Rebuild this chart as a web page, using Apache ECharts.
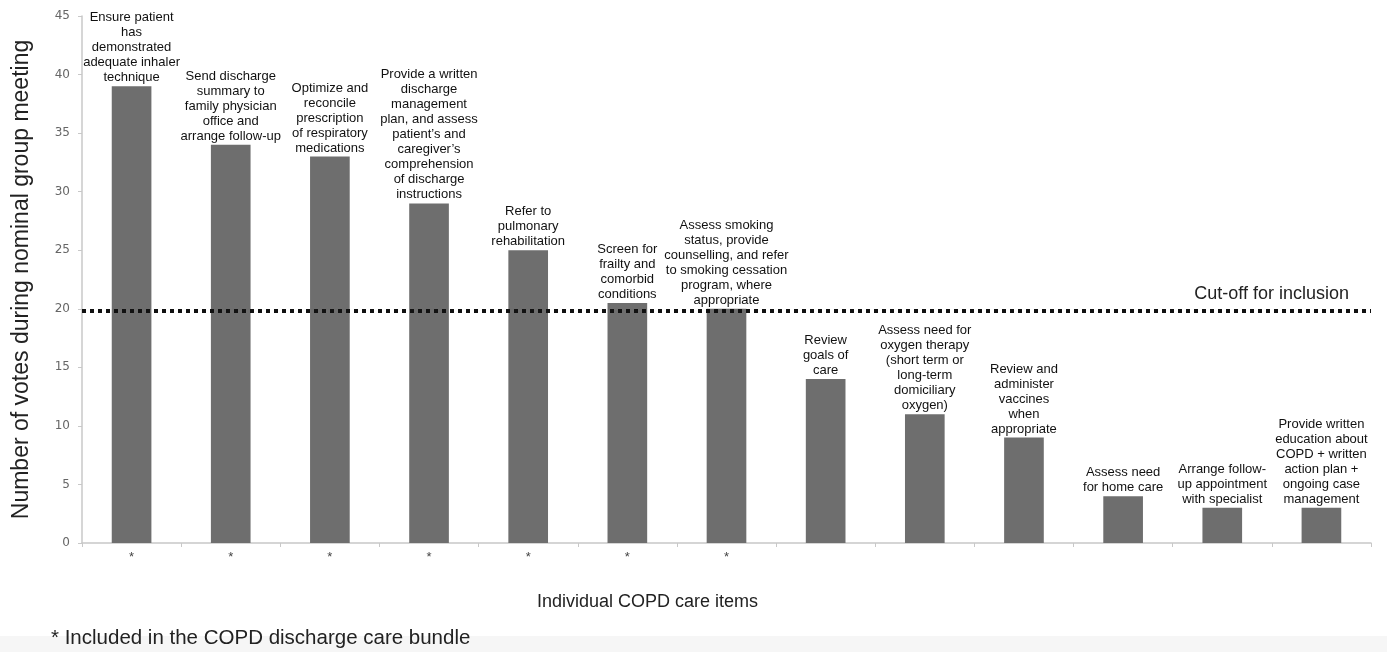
<!DOCTYPE html>
<html>
<head>
<meta charset="utf-8">
<script src="https://cdn.jsdelivr.net/npm/echarts@6/dist/echarts.min.js"></script>
<style>
  html, body { margin: 0; padding: 0; background: #fff; }
  #chart { width: 1387px; height: 652px; }
</style>
</head>
<body>
<div id="chart"></div>
<script>
// ---- Data ----
const categories = [
  "Ensure patient\nhas\ndemonstrated\nadequate inhaler\ntechnique",
  "Send discharge\nsummary to\nfamily physician\noffice and\narrange follow-up",
  "Optimize and\nreconcile\nprescription\nof respiratory\nmedications",
  "Provide a written\ndischarge\nmanagement\nplan, and assess\npatient\u2019s and\ncaregiver\u2019s\ncomprehension\nof discharge\ninstructions",
  "Refer to\npulmonary\nrehabilitation",
  "Screen for\nfrailty and\ncomorbid\nconditions",
  "Assess smoking\nstatus, provide\ncounselling, and refer\nto smoking cessation\nprogram, where\nappropriate",
  "Review\ngoals of\ncare",
  "Assess need for\noxygen therapy\n(short term or\nlong-term\ndomiciliary\noxygen)",
  "Review and\nadminister\nvaccines\nwhen\nappropriate",
  "Assess need\nfor home care",
  "Arrange follow-\nup appointment\nwith specialist",
  "Provide written\neducation about\nCOPD + written\naction plan +\nongoing case\nmanagement"
];
const votes = [39, 34, 33, 29, 25, 20.5, 20, 14, 11, 9, 4, 3, 3];
const inBundle = [true, true, true, true, true, true, true, false, false, false, false, false, false];
const cutoff = 19.8;
const cutoffLabel = "Cut-off for inclusion";
const yTicks = { min: 0, max: 45, interval: 5 };
const yAxisTitle = "Number of votes during nominal group meeting";
const xAxisTitle = "Individual COPD care items";
const footnote = "* Included in the COPD discharge care bundle";

const FONT = "'Liberation Sans', Arial, Helvetica, sans-serif";

const chart = echarts.init(document.getElementById('chart'), null, { renderer: 'canvas' });
chart.setOption({
  animation: false,
  backgroundColor: '#ffffff',
  textStyle: { fontFamily: FONT },
  graphic: [{
    type: 'rect', z: -10,
    shape: { x: 0, y: 636, width: 1387, height: 16 },
    style: { fill: '#f6f6f6' }
  }],
  title: [
    { text: xAxisTitle, left: 532, top: 588,
      textStyle: { fontFamily: FONT, fontSize: 18, fontWeight: 'normal', color: '#222' } },
    { text: footnote, left: 46, top: 623,
      textStyle: { fontFamily: FONT, fontSize: 20.5, fontWeight: 'normal', color: '#222' } }
  ],
  grid: { left: 82, right: 16, top: 16, bottom: 109, containLabel: false },
  xAxis: {
    type: 'category',
    data: categories,
    axisLine: { lineStyle: { color: '#c8c8c8', width: 1.5 } },
    axisTick: { show: true, length: 4, lineStyle: { color: '#c8c8c8' } },
    axisLabel: {
      interval: 0, margin: 8,
      fontSize: 13, color: '#444', fontFamily: FONT,
      formatter: (v, i) => inBundle[i] ? '*' : ''
    }
  },
  yAxis: {
    type: 'value',
    min: yTicks.min, max: yTicks.max, interval: yTicks.interval,
    name: yAxisTitle,
    nameLocation: 'middle',
    nameGap: 49,
    nameTextStyle: { fontFamily: FONT, fontSize: 23, color: '#222' },
    axisLine: { show: true, lineStyle: { color: '#c8c8c8', width: 1.5 } },
    axisTick: { show: true, length: 4, lineStyle: { color: '#c8c8c8' } },
    axisLabel: { fontSize: 12, color: '#666', margin: 12, fontFamily: "'DejaVu Sans', sans-serif" },
    splitLine: { show: false }
  },
  series: [{
    type: 'bar',
    data: votes,
    barWidth: '40%',
    itemStyle: { color: '#6e6e6e' },
    label: {
      show: true,
      position: 'top',
      distance: 1,
      formatter: (p) => categories[p.dataIndex],
      fontFamily: FONT,
      fontSize: 13,
      lineHeight: 15,
      color: '#111',
      align: 'center'
    },
    markLine: {
      silent: true,
      symbol: 'none',
      data: [{ yAxis: cutoff }],
      lineStyle: { type: [4, 4], width: 4, color: '#111' },
      label: {
        show: true,
        position: 'insideEndTop',
        formatter: cutoffLabel,
        fontFamily: FONT,
        fontSize: 18,
        color: '#222',
        distance: [22, 8]
      }
    }
  }]
});
</script>
</body>
</html>
